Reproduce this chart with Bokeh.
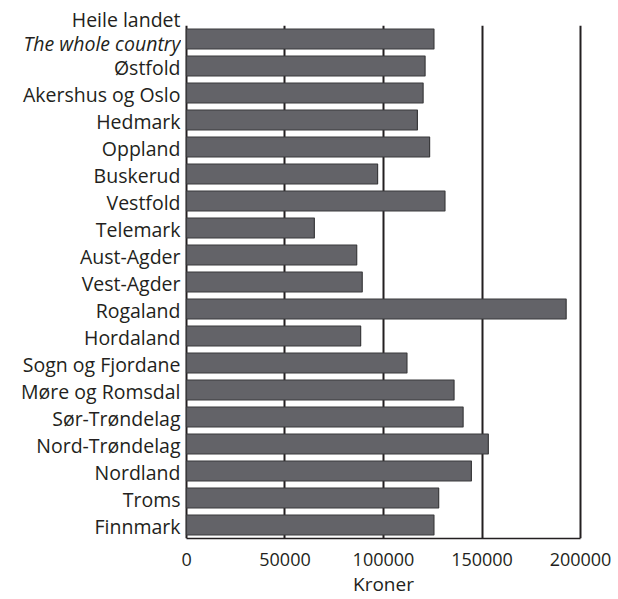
from bokeh.plotting import figure
from bokeh.layouts import row
from bokeh.models import (FactorRange, Range1d, FixedTicker, NumeralTickFormatter,
                          ColumnDataSource)
from bokeh.core.properties import value
from bokeh.embed import file_html
from bokeh.resources import INLINE

categories = ["Heile landet", "Østfold", "Akershus og Oslo", "Hedmark", "Oppland",
              "Buskerud", "Vestfold", "Telemark", "Aust-Agder", "Vest-Agder",
              "Rogaland", "Hordaland", "Sogn og Fjordane", "Møre og Romsdal",
              "Sør-Trøndelag", "Nord-Trøndelag", "Nordland", "Troms", "Finnmark"]
values = [125600, 121100, 120100, 117200, 123400, 97000, 131200, 64900, 86400,
          89200, 192700, 88400, 111900, 135800, 140400, 153200, 144600, 128000,
          125600]
x_ticks = [0, 50000, 100000, 150000, 200000]
total_label_lines = ["Heile landet", "The whole country"]
x_title = "Kroner"

FONT = "Open Sans"
INK = "#231f20"

W, H = 618, 599
LABEL_W = 181
FRAME_TOP = 25
FRAME_BOTTOM = 539
n = len(categories)
factors = categories[::-1]

# ---------------- main chart ----------------
pad = 1000  # tiny x padding so gridlines at 0 and at the max are drawn in full
p = figure(width=W - LABEL_W, height=H, output_backend="svg", toolbar_location=None,
           y_range=FactorRange(factors=factors, range_padding=0),
           x_range=Range1d(x_ticks[0] - pad, x_ticks[-1] + pad))
p.min_border_left = 3
p.min_border_right = 36
p.min_border_top = FRAME_TOP
p.min_border_bottom = H - FRAME_BOTTOM
p.outline_line_color = None

src = ColumnDataSource(dict(cat=categories, val=values))
p.hbar(y="cat", right="val", left=0, height=0.74, source=src,
       fill_color="#636368", line_color="#3a3a3c", line_width=1.2)

p.ygrid.grid_line_color = None
p.xgrid.ticker = FixedTicker(ticks=x_ticks)
p.xgrid.grid_line_color = INK
p.xgrid.grid_line_width = 2

xa = p.xaxis[0]
xa.ticker = FixedTicker(ticks=x_ticks)
xa.bounds = (x_ticks[0], x_ticks[-1])
xa.formatter = NumeralTickFormatter(format="0")
xa.axis_label = x_title
xa.axis_label_text_font = FONT
xa.axis_label_text_font_style = "normal"
xa.axis_label_text_font_size = "19px"
xa.axis_label_text_color = INK
xa.axis_label_standoff = 2
xa.major_label_text_font = FONT
xa.major_label_text_font_size = "18px"
xa.major_label_text_color = INK
xa.major_label_standoff = 14
xa.major_tick_out = 0
xa.major_tick_in = 0
xa.minor_tick_out = 0
xa.minor_tick_in = 0
xa.axis_line_color = INK
xa.axis_line_width = 1.5
p.yaxis.visible = False

# ---------------- category label strip (frame aligned with the chart) ----------------
lab = figure(width=LABEL_W, height=H, output_backend="svg", toolbar_location=None,
             x_range=Range1d(0, 1), y_range=Range1d(0, n),
             x_axis_type=None, y_axis_type=None,
             title=total_label_lines[0])
lab.min_border_left = 0
lab.min_border_right = 0
lab.min_border_top = FRAME_TOP
lab.min_border_bottom = H - FRAME_BOTTOM
lab.outline_line_color = None
lab.xgrid.visible = False
lab.ygrid.visible = False
lab.title.align = "right"
lab.title.text_font = FONT
lab.title.text_font_size = "19.5px"
lab.title.text_font_style = "normal"
lab.title.text_color = INK
lab.title.standoff = -15
lab.title.offset = 1

rows_text, rows_y, rows_style, rows_off = [], [], [], []
for cat in categories:
    yc = factors.index(cat) + 0.5
    if cat == categories[0]:
        rows_text.append(total_label_lines[1])
        rows_style.append("italic")
        rows_off.append(4)
    else:
        rows_text.append(cat)
        rows_style.append("normal")
        rows_off.append(1)
    rows_y.append(yc)

lsrc = ColumnDataSource(dict(x=[1] * len(rows_text), y=rows_y, text=rows_text,
                             style=rows_style, off=rows_off))
lab.text(x="x", y="y", text="text", source=lsrc, y_offset="off", x_offset=-1,
         text_align="right", text_baseline="middle", text_font=value(FONT),
         text_font_size="19.5px", text_font_style="style", text_color=INK)

layout = row(lab, p, spacing=0)
open("out.html", "w").write(file_html(layout, INLINE))
